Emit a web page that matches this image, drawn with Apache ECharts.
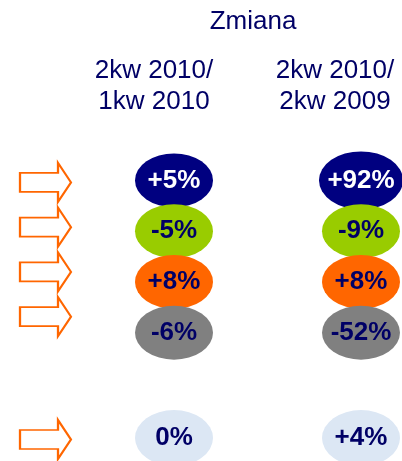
<!DOCTYPE html>
<html>
<head>
<meta charset="utf-8">
<script src="https://cdn.jsdelivr.net/npm/echarts@6/dist/echarts.min.js"></script>
<style>
html, body { margin: 0; padding: 0; background: #fff; }
#chart { width: 402px; height: 461px; }
</style>
</head>
<body>
<div id="chart"></div>
<script>
// data
var heading = 'Zmiana';
var periods = ['2kw 2010/\n1kw 2010', '2kw 2010/\n2kw 2009'];
var rows = ['w1', 'w2', 'w3', 'w4'];
var changeQoQ = [5, -5, 8, -6];
var changeYoY = [92, -9, 8, -52];
var totalRow = ['razem'];
var totalChange = [0, 4];

var chart = echarts.init(document.getElementById('chart'));

var FONT = '"Liberation Sans", Arial, sans-serif';
var NAVY = '#000066';
var rowColors = ['#000080', '#99CC00', '#FF6600', '#808080'];
var labelColors = ['#ffffff', NAVY, NAVY, NAVY];
var ELLIPSE = 'path://M0,50 A50,50 0 1,1 100,50 A50,50 0 1,1 0,50 Z';
var ARROW = 'path://M0,10 L38,10 L38,0 L51,19.5 L38,39 L38,29 L0,29 Z';

function pct(p) {
    var v = p.value[2];
    return (v > 0 ? '+' : '') + v + '%';
}

function pctLabel(color) {
    return {
        show: true,
        position: 'inside',
        formatter: pct,
        color: color,
        fontFamily: FONT,
        fontWeight: 'bold',
        fontSize: 26
    };
}

var series = [];
rows.forEach(function (r, i) {
    series.push({
        type: 'scatter',
        xAxisIndex: 0,
        yAxisIndex: 0,
        symbol: ELLIPSE,
        symbolSize: [78, 54],
        itemStyle: { color: rowColors[i], opacity: 1 },
        label: pctLabel(labelColors[i]),
        silent: true,
        data: [
            [0, i, changeQoQ[i]],
            { value: [1, i, changeYoY[i]], symbolSize: i === 0 ? [84, 58] : [78, 54] }
        ]
    });
});

// arrows next to the four rows
series.push({
    type: 'scatter',
    xAxisIndex: 1,
    yAxisIndex: 1,
    symbol: ARROW,
    symbolSize: [51, 39],
    itemStyle: { color: '#ffffff', borderColor: '#FF6600', borderWidth: 2, opacity: 1 },
    silent: true,
    data: rows.map(function (r, i) { return [0, i]; })
});

// total row
series.push({
    type: 'scatter',
    xAxisIndex: 2,
    yAxisIndex: 2,
    symbol: ELLIPSE,
    symbolSize: [78, 56],
    itemStyle: { color: '#DCE7F4', opacity: 1 },
    label: pctLabel(NAVY),
    silent: true,
    data: totalChange.map(function (v, j) { return [j, 0, v]; })
});
series.push({
    type: 'scatter',
    xAxisIndex: 3,
    yAxisIndex: 3,
    symbol: ARROW,
    symbolSize: [51, 39],
    itemStyle: { color: '#ffffff', borderColor: '#FF6600', borderWidth: 2, opacity: 1 },
    silent: true,
    data: [[0, 0]]
});

var option = {
    animation: false,
    grid: [
        { left: 174, right: 41, top: 155, height: 203 },
        { left: 20, width: 51, top: 160, height: 179 },
        { left: 174, right: 41, top: 415, height: 50 },
        { left: 20, width: 51, top: 418, height: 50 }
    ],
    xAxis: [
        { type: 'category', data: periods, boundaryGap: false, show: false, gridIndex: 0 },
        { type: 'category', data: [''], show: false, gridIndex: 1 },
        { type: 'category', data: periods, boundaryGap: false, show: false, gridIndex: 2 },
        { type: 'category', data: [''], show: false, gridIndex: 3 }
    ],
    yAxis: [
        { type: 'category', data: rows, inverse: true, show: false, gridIndex: 0 },
        { type: 'category', data: rows, inverse: true, show: false, gridIndex: 1 },
        { type: 'category', data: totalRow, show: false, gridIndex: 2 },
        { type: 'category', data: totalRow, show: false, gridIndex: 3 }
    ],
    graphic: [
        {
            type: 'text', x: 253, y: 22,
            style: { text: heading, fill: NAVY, font: '26px ' + FONT, align: 'center', verticalAlign: 'middle' }
        },
        {
            type: 'text', x: 154, y: 86,
            style: { text: periods[0], fill: NAVY, font: '26px ' + FONT, lineHeight: 31, align: 'center', verticalAlign: 'middle' }
        },
        {
            type: 'text', x: 335, y: 86,
            style: { text: periods[1], fill: NAVY, font: '26px ' + FONT, lineHeight: 31, align: 'center', verticalAlign: 'middle' }
        }
    ],
    series: series
};

chart.setOption(option);
</script>
</body>
</html>
